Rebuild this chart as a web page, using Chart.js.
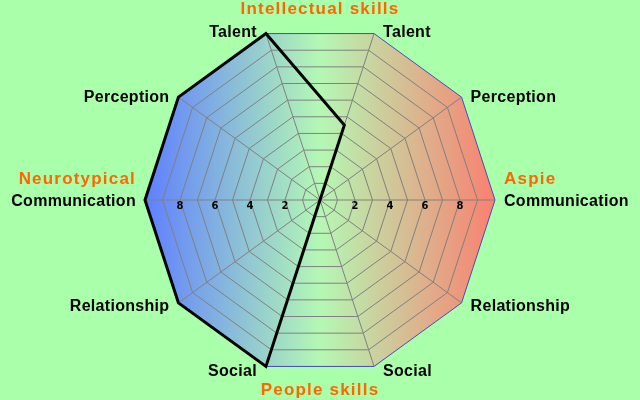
<!DOCTYPE html>
<html>
<head>
<meta charset="utf-8">
<title>Aspie / Neurotypical radar</title>
<script src="https://cdn.jsdelivr.net/npm/chart.js@4.4.0/dist/chart.umd.min.js"></script>
<style>
    body { margin: 0; background: #aaffaa; }
    canvas { display: block; }
</style>
</head>
<body>
<canvas id="skillsChart" width="640" height="400"></canvas>
<script>
// axes, clockwise from the top right
var skillLabels = ['Talent', 'Perception', 'Communication', 'Relationship', 'Social',
                   'Social', 'Relationship', 'Communication', 'Perception', 'Talent'];
var skillValues = [4.5, 0, 0, 0, 0, 10, 10, 10, 10, 10];
var tickLabels = [2, 4, 6, 8];
var topGroup = 'Intellectual skills';
var bottomGroup = 'People skills';
var leftGroup = 'Neurotypical';
var rightGroup = 'Aspie';

var FONT = '"Liberation Sans", Arial, sans-serif';

// gradient polygon behind the grid
var backgroundPlugin = {
    id: 'decagonBackground',
    beforeDraw: function (chart) {
        var ctx = chart.ctx;
        var r = chart.scales.r;
        var n = chart.data.labels.length;
        var grad = ctx.createLinearGradient(r.xCenter - r.drawingArea, 0, r.xCenter + r.drawingArea, 0);
        grad.addColorStop(0, '#5f7fff');
        grad.addColorStop(0.5, '#b4f8b4');
        grad.addColorStop(1, '#fa8070');
        ctx.save();
        ctx.beginPath();
        for (var i = 0; i < n; i++) {
            var p = r.getPointPosition(i, r.drawingArea);
            if (i === 0) ctx.moveTo(p.x, p.y); else ctx.lineTo(p.x, p.y);
        }
        ctx.closePath();
        ctx.fillStyle = grad;
        ctx.fill();
        ctx.restore();
    }
};

// point labels, tick labels and the group captions
var textPlugin = {
    id: 'radarTexts',
    afterDraw: function (chart) {
        var ctx = chart.ctx;
        var r = chart.scales.r;
        var labels = chart.data.labels;
        var commLeft, commRight;

        ctx.save();
        ctx.fillStyle = '#000';
        ctx.textBaseline = 'middle';
        ctx.font = 'bold 16px ' + FONT;
        ctx.letterSpacing = '0.3px';
        labels.forEach(function (label, i) {
            var p = r.getPointPosition(i, r.drawingArea);
            var right = p.x > r.xCenter;
            var x = right ? p.x + 9 : p.x - 9;
            var y = p.y + 2 + (p.y - r.yCenter) / r.drawingArea * 3;
            ctx.textAlign = right ? 'left' : 'right';
            ctx.fillText(label, x, y);
            if (label === 'Communication') {
                if (right) commRight = { x: x, y: y }; else commLeft = { x: x, y: y };
            }
        });

        ctx.font = 'bold 10px "DejaVu Sans", sans-serif';
        ctx.letterSpacing = '0px';
        ctx.textAlign = 'center';
        tickLabels.forEach(function (v) {
            var d = r.getDistanceFromCenterForValue(v);
            ctx.fillText(String(v), r.xCenter + d, r.yCenter + 6);
            ctx.fillText(String(v), r.xCenter - d, r.yCenter + 6);
        });

        ctx.fillStyle = '#ff6600';
        ctx.font = 'bold 17px ' + FONT;
        ctx.letterSpacing = '1.2px';
        ctx.textAlign = 'center';
        ctx.fillText(topGroup, r.xCenter, 9);
        ctx.fillText(bottomGroup, r.xCenter, chart.height - 10);
        ctx.textAlign = 'right';
        ctx.fillText(leftGroup, commLeft.x, commLeft.y - 23);
        ctx.textAlign = 'left';
        ctx.fillText(rightGroup, commRight.x, commRight.y - 23);
        ctx.restore();
    }
};

var ctx = document.getElementById('skillsChart').getContext('2d');
var skillsChart = new Chart(ctx, {
    type: 'radar',
    data: {
        labels: skillLabels,
        datasets: [{
            data: skillValues,
            borderColor: '#000',
            borderWidth: 3,
            borderJoinStyle: 'miter',
            fill: false,
            pointRadius: 0,
            tension: 0
        }]
    },
    options: {
        responsive: false,
        animation: false,
        layout: { padding: { top: 25, bottom: 25 } },
        plugins: {
            legend: { display: false },
            tooltip: { enabled: false }
        },
        scales: {
            r: {
                min: 0,
                max: 10,
                startAngle: 18,
                ticks: { display: false, stepSize: 1 },
                pointLabels: { display: false },
                grid: {
                    lineWidth: 1,
                    color: function (c) {
                        return c.tick && c.tick.value === 10 ? '#4848c0' : '#808080';
                    }
                },
                angleLines: { color: '#808080', lineWidth: 1 }
            }
        }
    },
    plugins: [backgroundPlugin, textPlugin]
});
</script>
</body>
</html>
